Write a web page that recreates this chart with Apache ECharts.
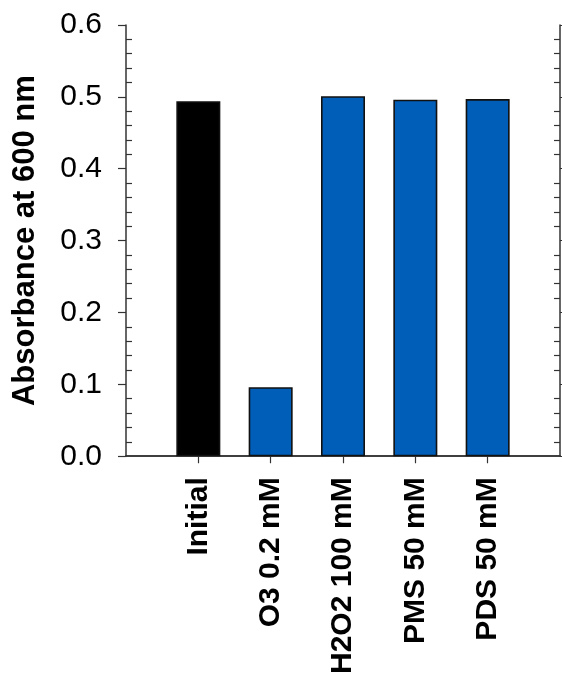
<!DOCTYPE html>
<html>
<head>
<meta charset="utf-8">
<script src="https://cdn.jsdelivr.net/npm/echarts@6/dist/echarts.min.js"></script>
<style>
  html, body { margin: 0; padding: 0; background: #fff; }
  #chart { width: 562px; height: 677px; }
</style>
</head>
<body>
<div id="chart"></div>
<script>
// Treatments along the x axis, placed at positions 1..5
const categories = ['Initial', 'O3 0.2 mM', 'H2O2 100 mM', 'PMS 50 mM', 'PDS 50 mM'];
// Absorbance at 600 nm for each treatment
const absorbance = [0.494, 0.096, 0.501, 0.496, 0.497];
// Bar fill per treatment
const barColors = ['#000000', '#005eb8', '#005eb8', '#005eb8', '#005eb8'];
// Y tick values
const yTicks = [0.0, 0.1, 0.2, 0.3, 0.4, 0.5, 0.6];

const FONT = "'Liberation Sans', Arial, sans-serif";
const AXIS_COLOR = '#333333';
const positions = categories.map((_, i) => i + 1);

const chart = echarts.init(document.getElementById('chart'), null, { renderer: 'canvas' });

const yMin = yTicks[0];
const yMax = yTicks[yTicks.length - 1];
const yStep = yTicks[1] - yTicks[0];

function yAxisBase(position) {
  return {
    type: 'value', position: position, min: yMin, max: yMax, interval: yStep,
    splitLine: { show: false }
  };
}

chart.setOption({
  animation: false,
  backgroundColor: '#ffffff',
  grid: { left: 126, right: 2, top: 25, bottom: 219, containLabel: false },
  xAxis: [
    {
      type: 'value', position: 'bottom', min: 0, max: categories.length + 1, interval: 1,
      axisLine: { show: true, lineStyle: { color: AXIS_COLOR, width: 1.5 } },
      axisTick: { show: true, length: 7, customValues: positions, lineStyle: { color: AXIS_COLOR, width: 1.2 } },
      axisLabel: {
        show: true, customValues: positions, rotate: 90, margin: 21,
        fontFamily: FONT, fontWeight: 'bold', fontSize: 30, color: '#000',
        formatter: v => categories[Math.round(v) - 1] || ''
      },
      splitLine: { show: false }
    },
    {
      type: 'value', position: 'top', min: 0, max: categories.length + 1,
      axisLine: { show: true, lineStyle: { color: AXIS_COLOR, width: 1.5 } },
      axisTick: { show: false }, axisLabel: { show: false }, splitLine: { show: false }
    }
  ],
  yAxis: [
    // left axis: line, outward major ticks, labels, title
    Object.assign(yAxisBase('left'), {
      axisLine: { show: true, lineStyle: { color: AXIS_COLOR, width: 1.5 } },
      axisTick: { show: true, inside: false, length: 8, lineStyle: { color: AXIS_COLOR, width: 1.2 } },
      axisLabel: {
        show: true, margin: 24, fontFamily: FONT, fontSize: 30, color: '#000',
        formatter: v => v.toFixed(1)
      },
      name: 'Absorbance at 600 nm', nameLocation: 'middle', nameGap: 85, nameRotate: 90,
      nameTextStyle: { fontFamily: FONT, fontWeight: 'bold', fontSize: 31, color: '#000' }
    }),
    // left axis: inward minor ticks
    Object.assign(yAxisBase('left'), {
      axisLine: { show: false },
      axisTick: { show: false, inside: true },
      minorTick: { show: true, splitNumber: 5, length: 6, lineStyle: { color: AXIS_COLOR, width: 1.2 } },
      axisLabel: { show: false }
    }),
    // right axis: line and outward major ticks
    Object.assign(yAxisBase('right'), {
      axisLine: { show: true, lineStyle: { color: AXIS_COLOR, width: 1.5 } },
      axisTick: { show: true, inside: false, length: 8, lineStyle: { color: AXIS_COLOR, width: 1.2 } },
      axisLabel: { show: false }
    }),
    // right axis: inward minor ticks
    Object.assign(yAxisBase('right'), {
      axisLine: { show: false },
      axisTick: { show: false, inside: true },
      minorTick: { show: true, splitNumber: 5, length: 6, lineStyle: { color: AXIS_COLOR, width: 1.2 } },
      axisLabel: { show: false }
    })
  ],
  series: [
    {
      type: 'bar', xAxisIndex: 0, yAxisIndex: 0, barWidth: 44,
      data: absorbance.map((v, i) => ({
        value: [positions[i], v],
        itemStyle: { color: barColors[i], borderColor: '#111', borderWidth: 1.6 }
      }))
    }
  ]
});
</script>
</body>
</html>
